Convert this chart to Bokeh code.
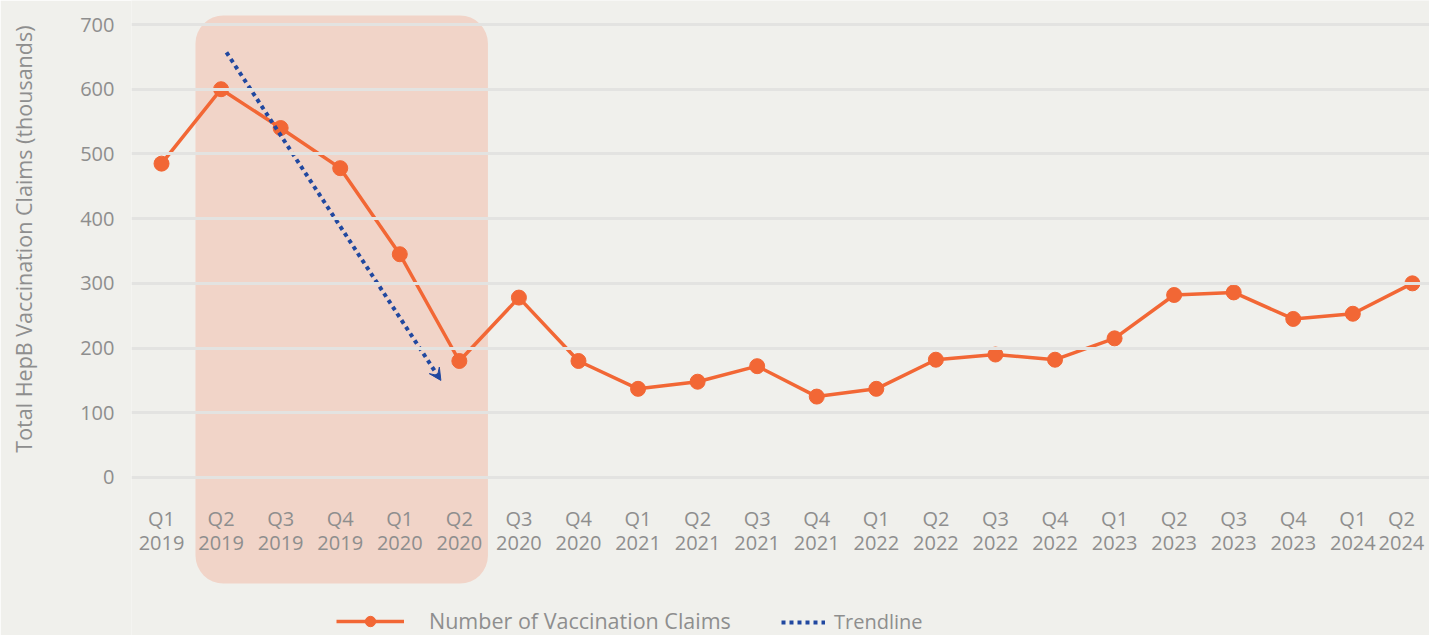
from bokeh.plotting import figure
from bokeh.models import (Range1d, FixedTicker, BoxAnnotation, Arrow, VeeHead,
                          Legend, LegendItem, Title)
from bokeh.core.properties import value
from bokeh.embed import file_html
from bokeh.resources import INLINE

# ---- data ----
quarters = ["Q1", "Q2", "Q3", "Q4", "Q1", "Q2", "Q3", "Q4", "Q1", "Q2", "Q3",
            "Q4", "Q1", "Q2", "Q3", "Q4", "Q1", "Q2", "Q3", "Q4", "Q1", "Q2"]
years = ["2019", "2019", "2019", "2019", "2020", "2020", "2020", "2020", "2021",
         "2021", "2021", "2021", "2022", "2022", "2022", "2022", "2023", "2023",
         "2023", "2023", "2024", "2024"]
claims = [485, 600, 540, 478, 345, 180, 278, 180, 137, 148, 172, 125, 137, 182,
          190, 182, 215, 282, 286, 245, 253, 300]
y_ticks = [0, 100, 200, 300, 400, 500, 600, 700]
trend_x = [1.09, 4.69]
trend_y = [657, 150]
highlight = [0.57, 5.48, 714, -164]   # left, right, top, bottom (data units)

idx = list(range(len(claims)))
# last label is nudged left so it stays inside the chart
label_dx = [0] * (len(idx) - 1) + [-11]

BG = "#f0f0ec"
GRAY = "#8e8e8e"
ORANGE = "#f26735"
BLUE = "#2148a0"
FONT = "Open Sans"

p = figure(width=1429, height=635,
           x_range=Range1d(-0.504, 21.287), y_range=Range1d(-244.2, 737.1),
           output_backend="svg", toolbar_location=None,
           background_fill_color=BG, border_fill_color=BG,
           min_border_left=0, min_border_top=0, min_border_right=0,
           min_border_bottom=0, outline_line_color=None)

# highlight box
box = BoxAnnotation(left=highlight[0], right=highlight[1], top=highlight[2],
                    bottom=highlight[3], fill_color="#f1d4c8", fill_alpha=1,
                    line_color=None, border_radius=28, level="underlay")
p.add_layout(box)

# grid
p.xgrid.visible = False
p.ygrid.ticker = FixedTicker(ticks=y_ticks)
p.ygrid.grid_line_color = "#e3e3e1"
p.ygrid.grid_line_width = 3
p.ygrid.level = "glyph"

# series
ln = p.line(idx, claims, line_color=ORANGE, line_width=3.5)
sc = p.scatter(idx, claims, size=15, fill_color=ORANGE, line_color=ORANGE)

# trendline
tl = p.line(trend_x, trend_y, line_color=BLUE, line_width=4, line_dash="4 4")
p.add_layout(Arrow(end=VeeHead(size=12, fill_color=BLUE, line_color=BLUE),
                   x_start=trend_x[0], y_start=trend_y[0],
                   x_end=trend_x[1], y_end=trend_y[1], line_alpha=0))

# x category labels (two rows) drawn through the scales
p.text(idx, [-63.5] * len(idx), text=quarters, x_offset=label_dx,
       text_font=value(FONT), text_font_size="20px", text_color=GRAY,
       text_align="center", text_baseline="middle")
p.text(idx, [-102] * len(idx), text=years, x_offset=label_dx,
       text_font=value(FONT), text_font_size="20px", text_color=GRAY,
       text_align="center", text_baseline="middle")

# axes
p.xaxis.visible = False
p.yaxis.ticker = FixedTicker(ticks=y_ticks)
p.yaxis.axis_line_color = None
p.yaxis.major_tick_line_color = None
p.yaxis.minor_tick_line_color = None
p.yaxis.major_label_standoff = 11
p.yaxis.major_label_text_font = FONT
p.yaxis.major_label_text_font_size = "20px"
p.yaxis.major_label_text_color = GRAY
# blank spacer label: only widens the axis band so the title sits at the edge
p.yaxis.axis_label = "\u00a0"
p.yaxis.axis_label_text_font_size = "1px"
p.yaxis.axis_label_standoff = 30

ytitle = Title(text="Total HepB Vaccination Claims (thousands)", align="right",
               offset=25, standoff=12, text_font=FONT, text_font_size="21.5px",
               text_font_style="normal", text_color=GRAY)
p.add_layout(ytitle, "left")

leg1 = Legend(items=[LegendItem(label="Number of Vaccination Claims", renderers=[ln, sc])],
              location=(205, 0), background_fill_alpha=0, border_line_color=None,
              label_text_font=FONT, label_text_font_size="21.5px",
              label_text_color=GRAY, glyph_width=68, glyph_height=26,
              label_height=26, label_standoff=25, margin=0, padding=0)
leg2 = Legend(items=[LegendItem(label="Trendline", renderers=[tl])],
              location=(650, 0), background_fill_alpha=0, border_line_color=None,
              label_text_font=FONT, label_text_font_size="20px",
              label_text_color=GRAY, glyph_width=44, glyph_height=26,
              label_height=26, label_standoff=9, margin=0, padding=0)
p.add_layout(leg1)
p.add_layout(leg2)

open("out.html", "w").write(file_html(p, INLINE))
